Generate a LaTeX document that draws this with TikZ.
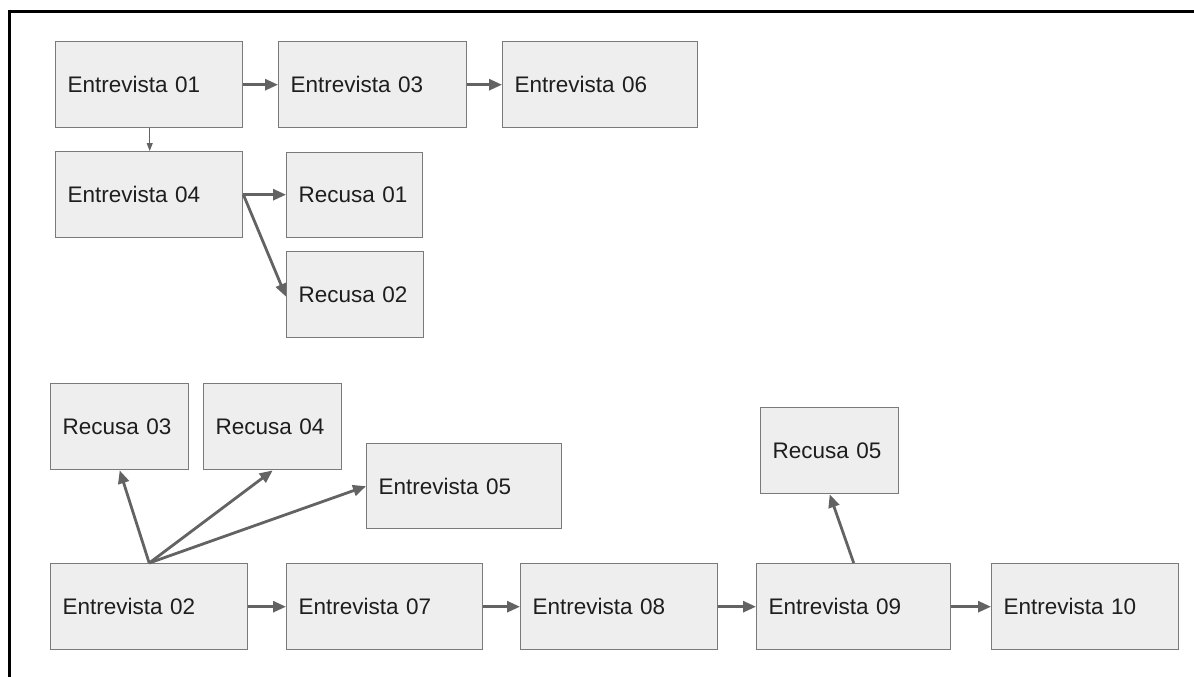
\documentclass[tikz,border=0pt]{standalone}
\usepackage{fontspec}
\setmainfont{Liberation Sans}
\usetikzlibrary{arrows.meta}
\definecolor{boxfill}{HTML}{EEEEEE}
\definecolor{boxline}{HTML}{7A7A7A}
\definecolor{arr}{HTML}{636363}
\definecolor{txt}{HTML}{1E1E1E}
\tikzset{
  bx/.style 2 args={draw=boxline, fill=boxfill, line width=1.4pt, anchor=north west,
    minimum width=#1pt, minimum height=#2pt, text width={#1pt-24pt}, inner xsep=12pt, inner ysep=0pt,
    align=left, text=txt, font=\fontsize{22.5}{27}\selectfont},
  conn/.style={draw=arr, line width=2.8pt, -{Triangle[length=13pt,width=11pt]}},
  thinconn/.style={draw=arr, line width=1pt, -{Triangle[length=8pt,width=6pt]}},
  frame/.style={draw=black, line width=3pt}
}
\begin{document}
\begin{tikzpicture}[x=1pt,y=-1pt]
\useasboundingbox (0,0) rectangle (1194,677);
% frame
\coordinate (fb) at (9.5,677);
\coordinate (fc) at (9.5,12);
\coordinate (fr) at (1194,12);
\draw[frame] (fb) -- (fc) -- (fr);
% top group
\node[bx={187}{86}] (e01) at (55,41) {Entrevista 01};
\node[bx={188}{86}] (e03) at (278,41) {Entrevista 03};
\node[bx={195}{86}] (e06) at (502,41) {Entrevista 06};
\node[bx={187}{86}] (e04) at (55,151) {Entrevista 04};
\node[bx={136}{85}] (r01) at (286,152) {Recusa 01};
\node[bx={137}{86}] (r02) at (286,251) {Recusa 02};
% bottom group
\node[bx={138}{86}] (r03) at (50,383) {Recusa 03};
\node[bx={138}{86}] (r04) at (203,383) {Recusa 04};
\node[bx={195}{85}] (e05) at (366,443) {Entrevista 05};
\node[bx={138}{86}] (r05) at (760,407) {Recusa 05};
\node[bx={197}{86}] (e02) at (50,563) {Entrevista 02};
\node[bx={196}{86}] (e07) at (286,563) {Entrevista 07};
\node[bx={197}{86}] (e08) at (520,563) {Entrevista 08};
\node[bx={194}{86}] (e09) at (756,563) {Entrevista 09};
\node[bx={187}{86}] (e10) at (991,563) {Entrevista 10};
% connectors
\draw[conn] (e01.east) -- (e03.west);
\draw[conn] (e03.east) -- (e06.west);
\draw[thinconn] ([xshift=0.5pt]e01.south) -- ([xshift=0.5pt]e04.north);
\draw[conn] (e04.east) -- (r01.west |- e04.east);
\draw[conn] (e04.east) -- ([yshift=-2pt]r02.west);
\draw[conn] (e02.north) -- (r03.south);
\draw[conn] (e02.north) -- (r04.south);
\draw[conn] (e02.north) -- (e05.west);
\draw[conn] (e02.east) -- (e07.west);
\draw[conn] (e07.east) -- (e08.west);
\draw[conn] (e08.east) -- (e09.west);
\draw[conn] (e09.east) -- (e10.west);
\draw[conn] (e09.north) -- (r05.south);
\end{tikzpicture}
\end{document}
